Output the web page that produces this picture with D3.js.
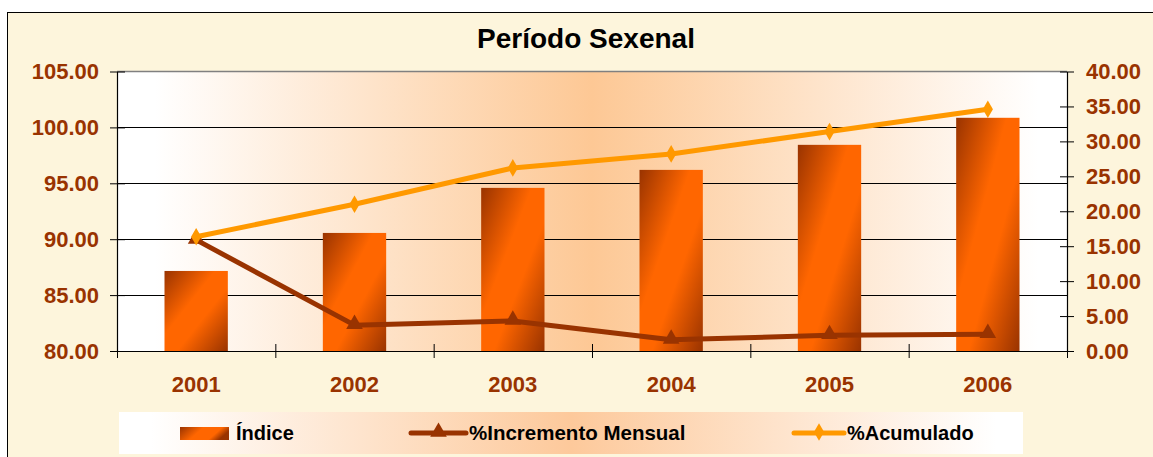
<!DOCTYPE html>
<html>
<head>
<meta charset="utf-8">
<script src="https://cdn.jsdelivr.net/npm/d3@7"></script>
<style>
  html, body { margin: 0; padding: 0; background: #ffffff; }
  svg { display: block; font-family: "Liberation Sans", Arial, sans-serif; }
</style>
</head>
<body>
<svg id="chart" width="1153" height="457"></svg>
<script>
// ---- data ----
const title = "Período Sexenal";
const years = ["2001", "2002", "2003", "2004", "2005", "2006"];
const indice = [87.16, 90.56, 94.59, 96.20, 98.44, 100.86];
const incrementoMensual = [15.9, 3.7, 4.3, 1.6, 2.25, 2.4];
const acumulado = [16.35, 21.0, 26.2, 28.2, 31.4, 34.6];
const leftTicks = [80, 85, 90, 95, 100, 105];
const rightTicks = [0, 5, 10, 15, 20, 25, 30, 35, 40];
const seriesNames = ["Índice", "%Incremento Mensual", "%Acumulado"];

const svg = d3.select("#chart");
const W = 1153, H = 457;
const plot = { left: 117, right: 1067, top: 71.5, bottom: 351 };
const axisColor = "#993300";
const barDark = "#993300", barLight = "#ff6600";
const incColor = "#993300", acuColor = "#ff9900";

const defs = svg.append("defs");
// plot-area gradient
const pg = defs.append("linearGradient").attr("id", "plotGrad").attr("x1", 0).attr("x2", 1).attr("y1", 0).attr("y2", 0);
[[0, "#ffffff"], [0.04, "#ffffff"], [0.5, "#fdc895"], [0.97, "#ffffff"], [1, "#ffffff"]]
  .forEach(([o, c]) => pg.append("stop").attr("offset", o).attr("stop-color", c));
// legend gradient
const lg = defs.append("linearGradient").attr("id", "legGrad").attr("x1", 0).attr("x2", 1).attr("y1", 0).attr("y2", 0);
[[0, "#ffffff"], [0.035, "#ffffff"], [0.5, "#fdc99b"], [0.97, "#ffffff"], [1, "#ffffff"]]
  .forEach(([o, c]) => lg.append("stop").attr("offset", o).attr("stop-color", c));
// bar gradient
const bg = defs.append("linearGradient").attr("id", "barGrad").attr("x1", 0).attr("y1", 0).attr("x2", 1).attr("y2", 1);
[[0, barDark], [0.4, barLight], [0.6, barLight], [1, barDark]]
  .forEach(([o, c]) => bg.append("stop").attr("offset", o).attr("stop-color", c));
const sg = defs.append("linearGradient").attr("id", "swGrad").attr("x1", 0).attr("y1", 0).attr("x2", 1).attr("y2", 0.3);
[[0, barDark], [0.45, barLight], [0.8, barLight], [1, barDark]]
  .forEach(([o, c]) => sg.append("stop").attr("offset", o).attr("stop-color", c));

// chart area background
svg.append("rect").attr("x", 7.5).attr("y", 12.5).attr("width", W).attr("height", H)
  .attr("fill", "#fdf5dc").attr("stroke", "#000").attr("stroke-width", 1);

// title
svg.append("text").attr("x", 586).attr("y", 48).attr("text-anchor", "middle")
  .attr("font-size", 28).attr("font-weight", "bold").attr("fill", "#000").text(title);

// scales
const x = d3.scaleBand().domain(years).range([plot.left, plot.right]).paddingInner(0.6).paddingOuter(0.3);
const xb = d3.scaleLinear().domain([0, years.length]).range([plot.left, plot.right]);
const yL = d3.scaleLinear().domain([80, 105]).range([plot.bottom, plot.top]);
const yR = d3.scaleLinear().domain([0, 40]).range([plot.bottom, plot.top]);

// plot area
svg.append("rect").attr("x", plot.left).attr("y", plot.top)
  .attr("width", plot.right - plot.left).attr("height", plot.bottom - plot.top).attr("fill", "url(#plotGrad)");
svg.append("line").attr("x1", plot.left).attr("x2", plot.right).attr("y1", plot.top).attr("y2", plot.top)
  .attr("stroke", "#808080").attr("stroke-width", 1.5);

// gridlines
svg.append("g").selectAll("line").data(leftTicks.filter(d => d > 80 && d < 105)).join("line")
  .attr("x1", plot.left).attr("x2", plot.right)
  .attr("y1", d => Math.round(yL(d)) + 0.5).attr("y2", d => Math.round(yL(d)) + 0.5)
  .attr("stroke", "#000").attr("stroke-width", 1);

// bars
svg.append("g").selectAll("rect").data(years).join("rect")
  .attr("x", d => x(d)).attr("width", x.bandwidth())
  .attr("y", (d, i) => yL(indice[i])).attr("height", (d, i) => plot.bottom - yL(indice[i]))
  .attr("fill", "url(#barGrad)");

// axes
function styleAxis(g) {
  g.select(".domain").attr("stroke", "#000").attr("stroke-width", 1.2);
  g.selectAll(".tick line").attr("stroke", "#000").attr("stroke-width", 1);
  g.selectAll(".tick text").attr("fill", axisColor).attr("font-weight", "bold")
    .attr("font-family", "'Liberation Sans', Arial, sans-serif");
}
const gL = svg.append("g").attr("transform", `translate(${plot.left},0)`)
  .call(d3.axisLeft(yL).tickValues(leftTicks).tickFormat(d3.format(".2f")).tickSizeOuter(0).tickSizeInner(7).tickPadding(11));
styleAxis(gL);
gL.selectAll(".tick line").attr("x2", 8).attr("x1", -7);
gL.selectAll(".tick text").attr("font-size", 22);

const gR = svg.append("g").attr("transform", `translate(${plot.right},0)`)
  .call(d3.axisRight(yR).tickValues(rightTicks).tickFormat(d3.format(".2f")).tickSizeOuter(0).tickSizeInner(7).tickPadding(12));
styleAxis(gR);
gR.selectAll(".tick line").attr("x1", -7).attr("x2", 7);
gR.selectAll(".tick text").attr("font-size", 22);

const gB = svg.append("g").attr("transform", `translate(0,${plot.bottom})`)
  .call(d3.axisBottom(xb).tickValues(d3.range(0, years.length + 1)).tickFormat("").tickSizeOuter(0).tickSizeInner(7));
styleAxis(gB);
gB.selectAll(".tick line").attr("y1", -7).attr("y2", 7);

const gX = svg.append("g").attr("transform", `translate(0,${plot.bottom})`)
  .call(d3.axisBottom(x).tickSize(0).tickPadding(25));
gX.select(".domain").remove();
gX.selectAll(".tick text").attr("fill", axisColor).attr("font-weight", "bold").attr("font-size", 22)
  .attr("font-family", "'Liberation Sans', Arial, sans-serif");

// lines
const cx = d => x(d) + x.bandwidth() / 2;
const tri = d3.symbol().type(d3.symbolTriangle).size(120);
const dia = d3.symbol().type(d3.symbolDiamond).size(90);

const lineGen = d3.line().x((d, i) => cx(years[i])).y(d => yR(d));
svg.append("path").datum(incrementoMensual).attr("d", lineGen)
  .attr("fill", "none").attr("stroke", incColor).attr("stroke-width", 5).attr("stroke-linejoin", "round");
svg.append("g").selectAll("path").data(incrementoMensual).join("path")
  .attr("d", tri).attr("transform", (d, i) => `translate(${cx(years[i])},${yR(d) - 1})`).attr("fill", incColor);

svg.append("path").datum(acumulado).attr("d", lineGen)
  .attr("fill", "none").attr("stroke", acuColor).attr("stroke-width", 5).attr("stroke-linejoin", "round");
svg.append("g").selectAll("path").data(acumulado).join("path")
  .attr("d", dia).attr("transform", (d, i) => `translate(${cx(years[i])},${yR(d)})`).attr("fill", acuColor);

// legend
const leg = svg.append("g");
leg.append("rect").attr("x", 119).attr("y", 412).attr("width", 904).attr("height", 42).attr("fill", "url(#legGrad)");
const legItems = [
  { name: seriesNames[0], type: "bar", sx: 180, tx: 236 },
  { name: seriesNames[1], type: "tri", sx: 411, tx: 469 },
  { name: seriesNames[2], type: "dia", sx: 794, tx: 847 }
];
const ly = 433;
legItems.forEach(it => {
  if (it.type === "bar") {
    leg.append("rect").attr("x", it.sx).attr("y", 427).attr("width", 49).attr("height", 13).attr("fill", "url(#swGrad)");
  } else {
    const col = it.type === "tri" ? incColor : acuColor;
    const len = it.type === "tri" ? 55 : 50;
    leg.append("line").attr("x1", it.sx).attr("x2", it.sx + len).attr("y1", ly).attr("y2", ly)
      .attr("stroke", col).attr("stroke-width", 5).attr("stroke-linecap", "round");
    leg.append("path").attr("d", it.type === "tri" ? tri : dia)
      .attr("transform", `translate(${it.sx + len / 2},${ly - 1})`).attr("fill", col);
  }
  leg.append("text").attr("x", it.tx).attr("y", 440).attr("font-size", it.type === "tri" ? 20.5 : 20)
    .attr("font-weight", "bold").attr("fill", "#000").text(it.name);
});
</script>
</body>
</html>
